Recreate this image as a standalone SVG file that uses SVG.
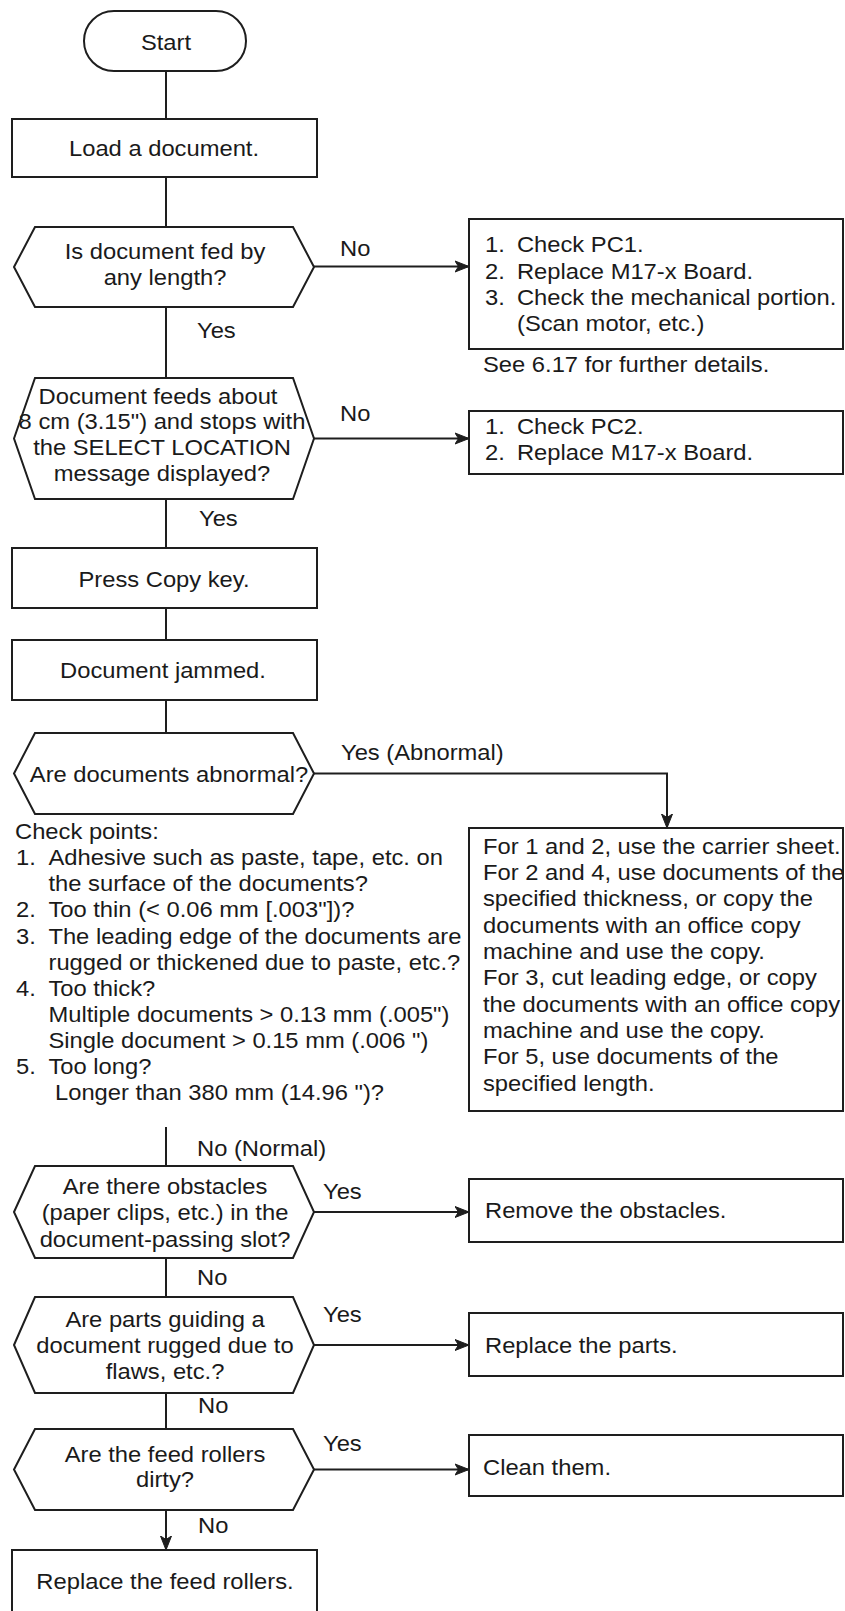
<svg xmlns="http://www.w3.org/2000/svg" width="845" height="1611" viewBox="0 0 845 1611">
<style>
.s{fill:#fff;stroke:#1e1e1e;stroke-width:2}
.c{fill:none;stroke:#1e1e1e;stroke-width:2}
.t{font-family:"Liberation Sans",Arial,Helvetica,sans-serif;font-size:22px;fill:#1a1a1a}
.m{text-anchor:middle}
</style>
<defs>
<marker id="ah" markerUnits="userSpaceOnUse" markerWidth="16" markerHeight="14" refX="14" refY="7" orient="auto">
<path d="M0,1.5 L14,7 L0,12.5 L3.5,7 Z" fill="#1e1e1e" stroke="#1e1e1e" stroke-width="1"/>
</marker>
</defs>
<rect width="845" height="1611" fill="#fff"/>

<g id="connectors">
<path class="c" d="M166,71 V119"/>
<path class="c" d="M166,177 V227"/>
<path class="c" d="M166,307 V378"/>
<path class="c" d="M166,499 V548"/>
<path class="c" d="M166,608 V640"/>
<path class="c" d="M166,700 V733"/>
<path class="c" d="M166,1127 V1166"/>
<path class="c" d="M166,1258 V1297"/>
<path class="c" d="M166,1393 V1429"/>
<path class="c" d="M166,1510 V1550" marker-end="url(#ah)"/>
<path class="c" d="M314,266.5 H469" marker-end="url(#ah)"/>
<path class="c" d="M314,438.5 H469" marker-end="url(#ah)"/>
<path class="c" d="M314,773.5 H667 V828" marker-end="url(#ah)"/>
<path class="c" d="M314,1212 H469" marker-end="url(#ah)"/>
<path class="c" d="M314,1345 H469" marker-end="url(#ah)"/>
<path class="c" d="M314,1469.5 H469" marker-end="url(#ah)"/>
</g>

<g id="labels">
<text class="t" transform="translate(340,256) scale(1.08,1)">No</text>
<text class="t" transform="translate(197,338) scale(1.08,1)">Yes</text>
<text class="t" transform="translate(340,421) scale(1.08,1)">No</text>
<text class="t" transform="translate(199,526) scale(1.08,1)">Yes</text>
<text class="t" transform="translate(341,760) scale(1.08,1)">Yes (Abnormal)</text>
<text class="t" transform="translate(197,1156) scale(1.08,1)">No (Normal)</text>
<text class="t" transform="translate(323,1199) scale(1.08,1)">Yes</text>
<text class="t" transform="translate(197,1285) scale(1.08,1)">No</text>
<text class="t" transform="translate(323,1322) scale(1.08,1)">Yes</text>
<text class="t" transform="translate(198,1413) scale(1.08,1)">No</text>
<text class="t" transform="translate(323,1451) scale(1.08,1)">Yes</text>
<text class="t" transform="translate(198,1533) scale(1.08,1)">No</text>
</g>

<g id="start">
<rect class="s" x="84" y="11" width="162" height="60" rx="30" ry="30"/>
<text class="t m" transform="translate(166,50) scale(1.08,1)">Start</text>
</g>

<g id="load">
<rect class="s" x="12" y="119" width="305" height="58"/>
<text class="t m" transform="translate(164,156) scale(1.08,1)">Load a document.</text>
</g>

<g id="q1">
<polygon class="s" points="14,267 35,227 293,227 314,267 293,307 35,307"/>
<text class="t m" transform="translate(165,259) scale(1.08,1)">Is document fed by</text>
<text class="t m" transform="translate(165,285) scale(1.08,1)">any length?</text>
</g>

<g id="r1">
<rect class="s" x="469" y="219" width="374" height="130"/>
<text class="t" transform="translate(485,252) scale(1.08,1)"><tspan x="0">1.</tspan><tspan x="29.6">Check PC1.</tspan></text>
<text class="t" transform="translate(485,279) scale(1.08,1)"><tspan x="0">2.</tspan><tspan x="29.6">Replace M17-x Board.</tspan></text>
<text class="t" transform="translate(485,305) scale(1.08,1)"><tspan x="0">3.</tspan><tspan x="29.6">Check the mechanical portion.</tspan></text>
<text class="t" transform="translate(517,331) scale(1.08,1)">(Scan motor, etc.)</text>
</g>

<g id="note1">
<text class="t" transform="translate(483,372) scale(1.08,1)">See 6.17 for further details.</text>
</g>

<g id="q2">
<polygon class="s" points="14,438.5 35,378 293,378 314,438.5 293,499 35,499"/>
<text class="t m" transform="translate(158,404) scale(1.08,1)">Document feeds about</text>
<text class="t m" transform="translate(162,429) scale(1.08,1)">8 cm (3.15") and stops with</text>
<text class="t m" transform="translate(162,455) scale(1.08,1)">the SELECT LOCATION</text>
<text class="t m" transform="translate(162,481) scale(1.08,1)">message displayed?</text>
</g>

<g id="r2">
<rect class="s" x="469" y="411" width="374" height="63"/>
<text class="t" transform="translate(485,434) scale(1.08,1)"><tspan x="0">1.</tspan><tspan x="29.6">Check PC2.</tspan></text>
<text class="t" transform="translate(485,460) scale(1.08,1)"><tspan x="0">2.</tspan><tspan x="29.6">Replace M17-x Board.</tspan></text>
</g>

<g id="press">
<rect class="s" x="12" y="548" width="305" height="60"/>
<text class="t m" transform="translate(164,587) scale(1.08,1)">Press Copy key.</text>
</g>

<g id="jam">
<rect class="s" x="12" y="640" width="305" height="60"/>
<text class="t m" transform="translate(163,678) scale(1.08,1)">Document jammed.</text>
</g>

<g id="q3">
<polygon class="s" points="14,773.5 35,733 293,733 314,773.5 293,814 35,814"/>
<text class="t m" transform="translate(169,782) scale(1.08,1)">Are documents abnormal?</text>
</g>

<g id="checkpoints">
<text class="t" transform="translate(15,839) scale(1.08,1)">Check points:</text>
<text class="t" transform="translate(16,865) scale(1.08,1)"><tspan x="0">1.</tspan><tspan x="30">Adhesive such as paste, tape, etc. on</tspan></text>
<text class="t" transform="translate(48.5,891) scale(1.08,1)">the surface of the documents?</text>
<text class="t" transform="translate(16,917) scale(1.08,1)"><tspan x="0">2.</tspan><tspan x="30">Too thin (&lt; 0.06 mm [.003"])?</tspan></text>
<text class="t" transform="translate(16,944) scale(1.08,1)"><tspan x="0">3.</tspan><tspan x="30">The leading edge of the documents are</tspan></text>
<text class="t" transform="translate(48.5,970) scale(1.08,1)">rugged or thickened due to paste, etc.?</text>
<text class="t" transform="translate(16,996) scale(1.08,1)"><tspan x="0">4.</tspan><tspan x="30">Too thick?</tspan></text>
<text class="t" transform="translate(48.5,1022) scale(1.08,1)">Multiple documents &gt; 0.13 mm (.005")</text>
<text class="t" transform="translate(48.5,1048) scale(1.08,1)">Single document &gt; 0.15 mm (.006 ")</text>
<text class="t" transform="translate(16,1074) scale(1.08,1)"><tspan x="0">5.</tspan><tspan x="30">Too long?</tspan></text>
<text class="t" transform="translate(55,1100) scale(1.08,1)">Longer than 380 mm (14.96 ")?</text>
</g>

<g id="r3">
<rect class="s" x="469" y="828" width="374" height="283"/>
<text class="t" transform="translate(483,854) scale(1.08,1)">For 1 and 2, use the carrier sheet.</text>
<text class="t" transform="translate(483,880) scale(1.08,1)">For 2 and 4, use documents of the</text>
<text class="t" transform="translate(483,906) scale(1.08,1)">specified thickness, or copy the</text>
<text class="t" transform="translate(483,933) scale(1.08,1)">documents with an office copy</text>
<text class="t" transform="translate(483,959) scale(1.08,1)">machine and use the copy.</text>
<text class="t" transform="translate(483,985) scale(1.08,1)">For 3, cut leading edge, or copy</text>
<text class="t" transform="translate(483,1012) scale(1.08,1)">the documents with an office copy</text>
<text class="t" transform="translate(483,1038) scale(1.08,1)">machine and use the copy.</text>
<text class="t" transform="translate(483,1064) scale(1.08,1)">For 5, use documents of the</text>
<text class="t" transform="translate(483,1091) scale(1.08,1)">specified length.</text>
</g>

<g id="q4">
<polygon class="s" points="14,1212 35,1166 293,1166 314,1212 293,1258 35,1258"/>
<text class="t m" transform="translate(165,1194) scale(1.08,1)">Are there obstacles</text>
<text class="t m" transform="translate(165,1220) scale(1.08,1)">(paper clips, etc.) in the</text>
<text class="t m" transform="translate(165,1247) scale(1.08,1)">document-passing slot?</text>
</g>

<g id="r4">
<rect class="s" x="469" y="1179" width="374" height="63"/>
<text class="t" transform="translate(485,1218) scale(1.08,1)">Remove the obstacles.</text>
</g>

<g id="q5">
<polygon class="s" points="14,1345 35,1297 293,1297 314,1345 293,1393 35,1393"/>
<text class="t m" transform="translate(165,1327) scale(1.08,1)">Are parts guiding a</text>
<text class="t m" transform="translate(165,1353) scale(1.08,1)">document rugged due to</text>
<text class="t m" transform="translate(165,1379) scale(1.08,1)">flaws, etc.?</text>
</g>

<g id="r5">
<rect class="s" x="469" y="1313" width="374" height="63"/>
<text class="t" transform="translate(485,1353) scale(1.08,1)">Replace the parts.</text>
</g>

<g id="q6">
<polygon class="s" points="14,1469.5 35,1429 293,1429 314,1469.5 293,1510 35,1510"/>
<text class="t m" transform="translate(165,1462) scale(1.08,1)">Are the feed rollers</text>
<text class="t m" transform="translate(165,1487) scale(1.08,1)">dirty?</text>
</g>

<g id="r6">
<rect class="s" x="469" y="1435" width="374" height="61"/>
<text class="t" transform="translate(483,1475) scale(1.08,1)">Clean them.</text>
</g>

<g id="final">
<rect class="s" x="12" y="1550" width="305" height="70"/>
<text class="t m" transform="translate(165,1589) scale(1.08,1)">Replace the feed rollers.</text>
</g>
</svg>
